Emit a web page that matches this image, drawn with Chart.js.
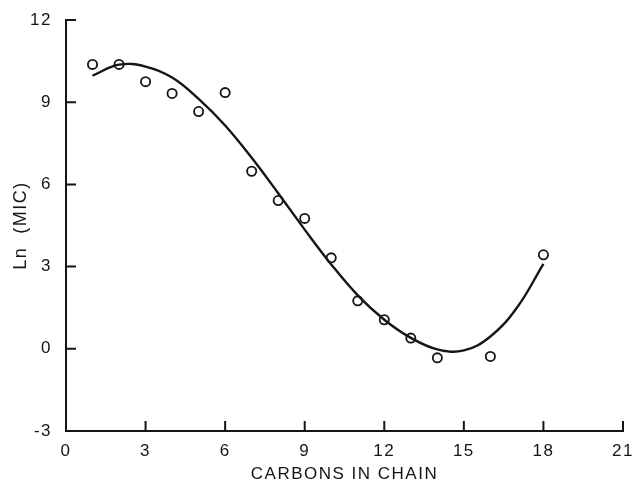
<!DOCTYPE html>
<html>
<head>
<meta charset="utf-8">
<script src="https://cdn.jsdelivr.net/npm/chart.js"></script>
<style>
  html, body { margin: 0; padding: 0; background: #fff; }
  #wrap { width: 633px; height: 485px; }
</style>
</head>
<body>
<div id="wrap"><canvas id="micChart" width="633" height="485"></canvas></div>
<script>
// measured points
const carbons = [1, 2, 3, 4, 5, 6, 7, 8, 9, 10, 11, 12, 13, 14, 16, 18];
const lnMic = [10.38, 10.38, 9.75, 9.32, 8.66, 9.35, 6.48, 5.41, 4.76, 3.32, 1.75, 1.06, 0.39, -0.33, -0.28, 3.43];

// fitted curve
const fitCarbons = [1, 2, 3, 4, 5, 6, 7, 8, 9, 10, 11, 12, 13, 14, 15, 16, 17, 18];
const fitLnMic = [9.97, 10.37, 10.3, 9.9, 9.12, 8.15, 6.97, 5.68, 4.35, 3.08, 1.95, 1.06, 0.4, -0.02, -0.06, 0.45, 1.5, 3.1];

const xTicks = [3, 6, 9, 12, 15, 18, 21];
const yTicks = [0, 3, 6, 9, 12];

const ink = '#151515';
const fontFamily = "'Liberation Sans', Arial, sans-serif";

// tick marks point into the plot area
const innerTicks = {
  id: 'innerTicks',
  beforeDraw(chart) {
    chart.ctx.letterSpacing = '1.5px';
  },
  afterDraw(chart) {
    const { ctx, chartArea, scales } = chart;
    ctx.save();
    ctx.strokeStyle = ink;
    ctx.lineWidth = 2;
    ctx.beginPath();
    xTicks.forEach(v => {
      const px = scales.x.getPixelForValue(v);
      ctx.moveTo(px, chartArea.bottom);
      ctx.lineTo(px, chartArea.bottom - 10);
    });
    yTicks.forEach(v => {
      const py = scales.y.getPixelForValue(v);
      ctx.moveTo(chartArea.left, py);
      ctx.lineTo(chartArea.left + 10, py);
    });
    ctx.stroke();
    ctx.restore();
  }
};

new Chart(document.getElementById('micChart'), {
  type: 'scatter',
  data: {
    datasets: [
      {
        type: 'line',
        data: fitCarbons.map((c, i) => ({ x: c, y: fitLnMic[i] })),
        borderColor: ink,
        borderWidth: 2.4,
        pointRadius: 0,
        tension: 0.4,
        fill: false
      },
      {
        data: carbons.map((c, i) => ({ x: c, y: lnMic[i] })),
        pointStyle: 'circle',
        pointRadius: 4.6,
        pointBorderWidth: 1.8,
        pointBorderColor: ink,
        pointBackgroundColor: '#fff'
      }
    ]
  },
  options: {
    responsive: false,
    animation: false,
    layout: { padding: { top: 20, right: 10, left: 0, bottom: 0 } },
    plugins: {
      legend: { display: false },
      tooltip: { enabled: false }
    },
    scales: {
      x: {
        type: 'linear',
        min: 0,
        max: 21,
        afterBuildTicks: (scale) => { scale.ticks = [0, ...xTicks].map(v => ({ value: v })); },
        afterFit: (scale) => {
          scale.height = 54;
          scale.paddingLeft = 0;
          scale.paddingRight = 0;
        },
        grid: { display: false, drawTicks: false },
        border: { display: true, color: ink, width: 2 },
        ticks: {
          color: ink,
          padding: 10,
          maxRotation: 0,
          font: { family: fontFamily, size: 17 }
        },
        title: {
          display: true,
          text: 'CARBONS IN CHAIN',
          color: ink,
          padding: { top: 2, bottom: 0 },
          font: { family: fontFamily, size: 17 }
        }
      },
      y: {
        type: 'linear',
        min: -3,
        max: 12,
        afterBuildTicks: (scale) => { scale.ticks = [-3, ...yTicks].map(v => ({ value: v })); },
        afterFit: (scale) => {
          scale.width = 66;
          scale.paddingTop = 0;
          scale.paddingBottom = 0;
        },
        grid: { display: false, drawTicks: false },
        border: { display: true, color: ink, width: 2 },
        ticks: {
          color: ink,
          padding: 14,
          font: { family: fontFamily, size: 17 }
        },
        title: {
          display: true,
          text: 'Ln  (MIC)',
          color: ink,
          padding: { top: 10, bottom: 0 },
          font: { family: fontFamily, size: 18 }
        }
      }
    }
  },
  plugins: [innerTicks]
});
</script>
</body>
</html>
